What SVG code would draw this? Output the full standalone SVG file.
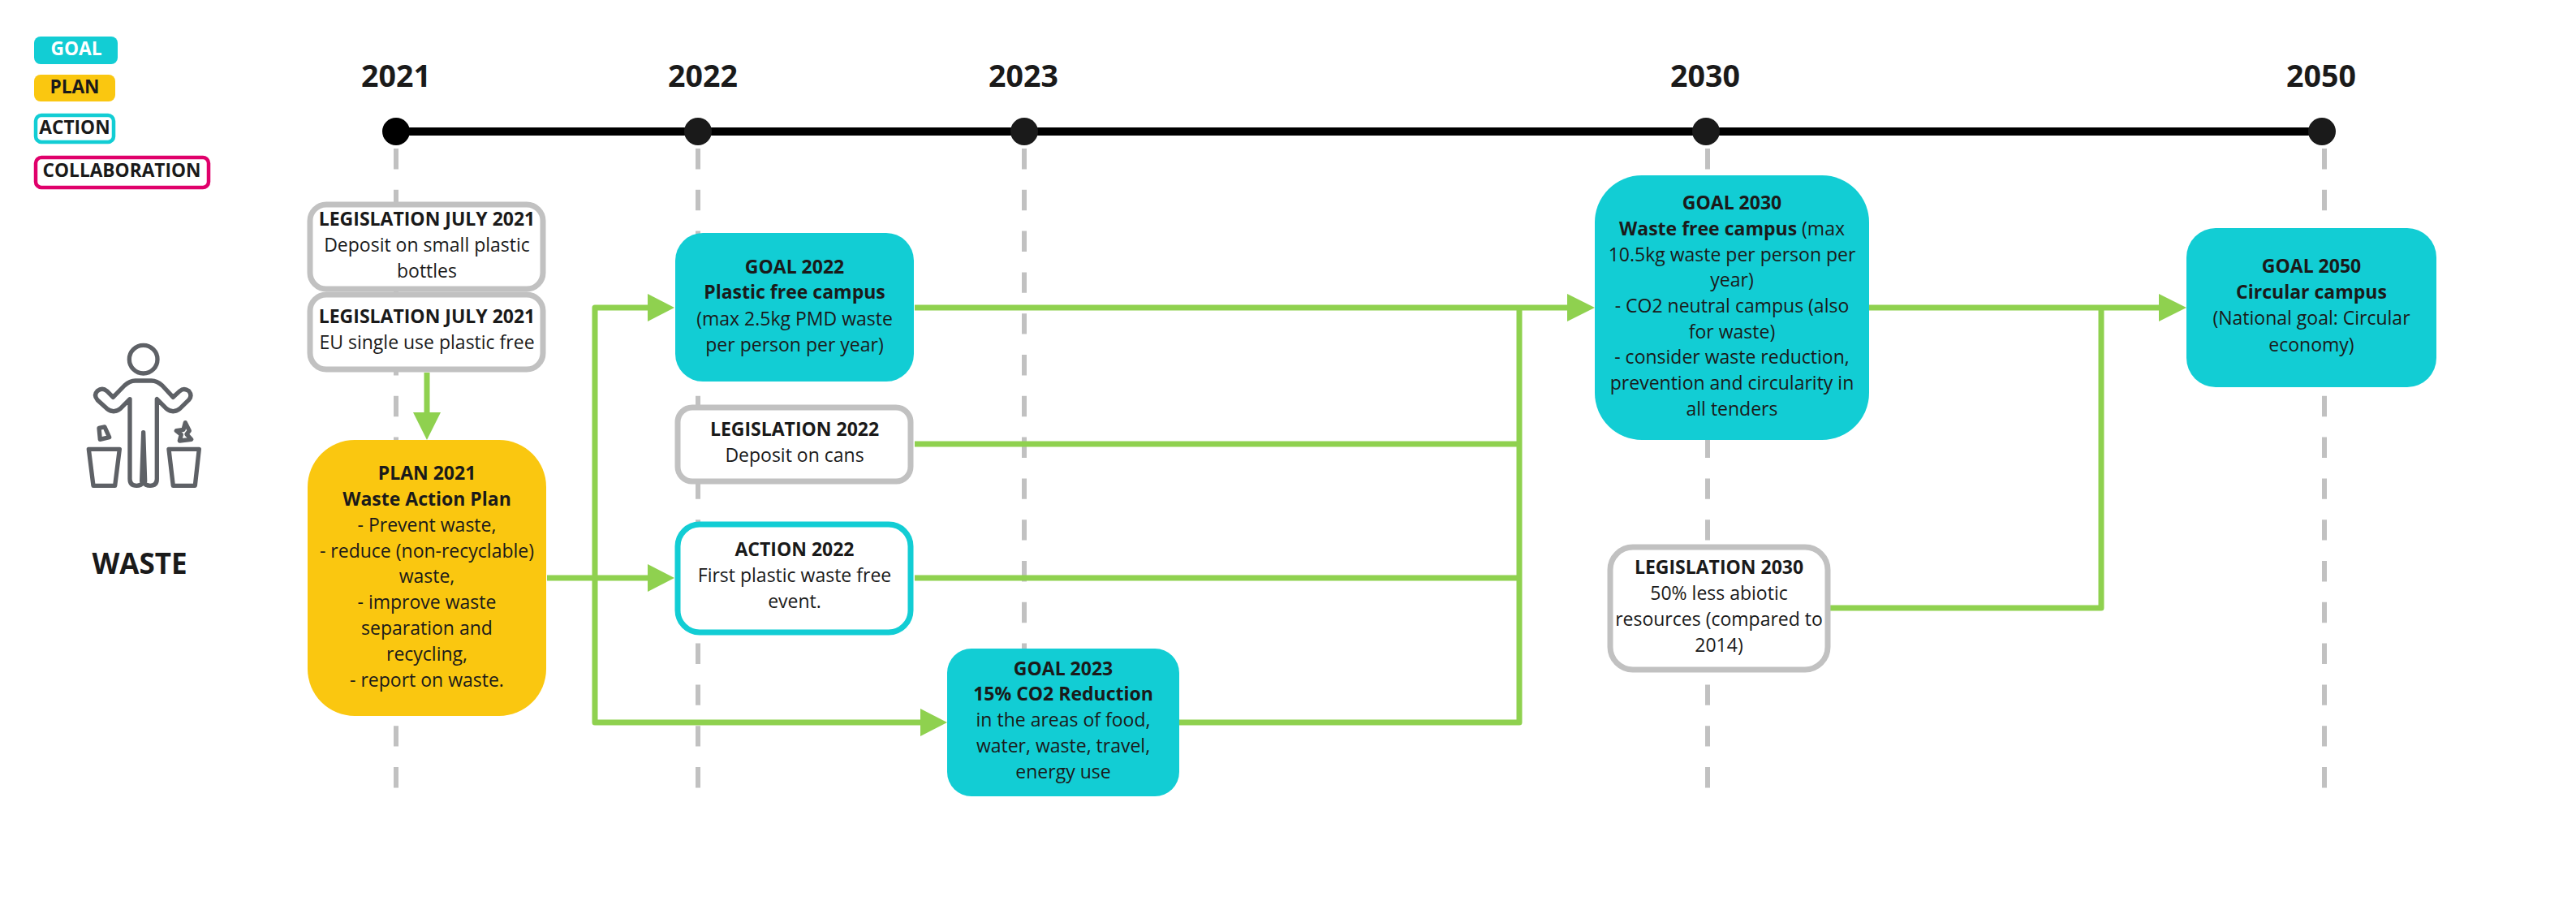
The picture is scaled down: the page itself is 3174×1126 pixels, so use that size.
<svg xmlns="http://www.w3.org/2000/svg" width="3174" height="1126" viewBox="0 0 3174 1126">
<style>
text{font-family:"Open Sans","Noto Sans","Liberation Sans",sans-serif;fill:#1a1a1a;text-anchor:middle;font-size:23px}
.b{font-weight:700}
.leg{font-size:22.7px;font-weight:700}
.yr{font-size:37.5px;font-weight:700}
.guide{stroke:#c1c1c1;stroke-width:6;stroke-dasharray:25.4 25.4;fill:none}
.c{stroke:#8fd14f;stroke-width:7;fill:none;stroke-linejoin:round}
.h{fill:#8fd14f}
.goal{fill:#12cdd4}
.plan{fill:#fac710}
.gray{fill:#fff;stroke:#c1c1c1;stroke-width:7}
.act{fill:#fff;stroke:#12cdd4;stroke-width:7}
</style>
<rect width="3174" height="1126" fill="#fff"/>
<g id="guides">
<path class="guide" d="M488 183V971"/><path class="guide" d="M860 183V971"/><path class="guide" d="M1262 183V971"/><path class="guide" d="M2104 183V971"/><path class="guide" d="M2864 183V971"/>
</g>
<g id="timeline">
<rect x="488" y="157" width="2373" height="10" fill="#000"/>
<circle cx="488" cy="162" r="17" fill="#000"/><circle cx="860" cy="162" r="17" fill="#1a1a1a"/><circle cx="1262" cy="162" r="17" fill="#1a1a1a"/><circle cx="2102" cy="162" r="17" fill="#1a1a1a"/><circle cx="2861" cy="162" r="17" fill="#1a1a1a"/>
<text class="yr" x="488" y="107">2021</text><text class="yr" x="866" y="107">2022</text><text class="yr" x="1261" y="107">2023</text><text class="yr" x="2101" y="107">2030</text><text class="yr" x="2860" y="107">2050</text>
</g>
<g id="connectors">
<path class="c" d="M526 459V510"/><path class="h" d="M509 508H543L526 542Z"/>
<path class="c" d="M674 712H800"/><path class="h" d="M798 695V729L831 712Z"/>
<path class="c" d="M800 379H733V890H1136"/><path class="h" d="M798 362V396L831 379Z"/><path class="h" d="M1134 873V907L1167 890Z"/>
<path class="c" d="M1127 379H1933"/><path class="h" d="M1931 362V396L1965 379Z"/>
<path class="c" d="M1127 547H1872"/><path class="c" d="M1127 712H1872"/>
<path class="c" d="M1453 890H1872V379"/>
<path class="c" d="M2303 379H2662"/><path class="h" d="M2660 362V396L2694 379Z"/>
<path class="c" d="M2255 749H2589V379"/>
</g>
<g id="legend-goal"><rect class="goal" x="42" y="45" width="103" height="34" rx="8"/><text class="leg" x="94" y="68" style="fill:#fff">GOAL</text></g>
<g id="legend-plan"><rect class="plan" x="42" y="92" width="100" height="33" rx="8"/><text class="leg" x="92" y="115">PLAN</text></g>
<g id="legend-action"><rect x="44" y="142" width="96" height="33" rx="7" fill="#fff" stroke="#12cdd4" stroke-width="4.5"/><text class="leg" x="92" y="165">ACTION</text></g>
<g id="legend-collaboration"><rect x="44" y="194" width="213" height="37" rx="7" fill="#fff" stroke="#e0006b" stroke-width="4.5"/><text class="leg" x="150" y="218">COLLABORATION</text></g>
<g id="waste-icon" transform="translate(60 400) scale(.3333)" fill="none" stroke="#5e6166" stroke-width="16" stroke-linejoin="round" stroke-linecap="round">
<circle cx="350" cy="128" r="52"/>
<path d="M300 275L265 310Q240 330 215 310L180 278Q165 260 180 245Q198 230 215 245L238 268L280 225Q300 207 320 207H380Q400 207 420 225L460 268L485 245Q500 232 518 245Q532 262 518 278L485 310Q460 330 435 310L400 275V570Q400 595 375 595Q358 595 350 582Q342 595 325 595Q300 595 300 570Z"/>
<path d="M350 398L344 578M350 398L356 578"/>
<path d="M148 460H262L245 595H165Z"/><path d="M444 460H556L541 595H460Z"/>
<path d="M186 382L207 378L224 416L190 424Z"/>
<path d="M472 392L498 388L505 362L520 392L510 405L527 424L484 429L490 406Z"/>
</g>
<g id="waste-label"><text class="b" x="172" y="707" style="font-size:35px">WASTE</text></g>
<g id="leg-july-1"><rect class="gray" x="382" y="252" width="287" height="104" rx="20"/><text class="b" x="526" y="278">LEGISLATION JULY 2021</text><text x="526" y="310">Deposit on small plastic</text><text x="526" y="342">bottles</text></g>
<g id="leg-july-2"><rect class="gray" x="382" y="363" width="287" height="92" rx="20"/><text class="b" x="526" y="398">LEGISLATION JULY 2021</text><text x="526" y="430">EU single use plastic free</text></g>
<g id="plan-2021"><rect class="plan" x="379" y="542" width="294" height="340" rx="58"/>
<text class="b" x="526" y="591">PLAN 2021</text><text class="b" x="526" y="623">Waste Action Plan</text><text x="526" y="655">- Prevent waste,</text><text x="526" y="687">- reduce (non-recyclable)</text><text x="526" y="718">waste,</text><text x="526" y="750">- improve waste</text><text x="526" y="782">separation and</text><text x="526" y="814">recycling,</text><text x="526" y="846">- report on waste.</text></g>
<g id="goal-2022"><rect class="goal" x="832" y="287" width="294" height="183" rx="34"/><text class="b" x="979" y="337">GOAL 2022</text><text class="b" x="979" y="368">Plastic free campus</text><text x="979" y="401">(max 2.5kg PMD waste</text><text x="979" y="433">per person per year)</text></g>
<g id="leg-2022"><rect class="gray" x="835" y="502" width="287" height="91" rx="18"/><text class="b" x="979" y="537">LEGISLATION 2022</text><text x="979" y="569">Deposit on cans</text></g>
<g id="action-2022"><rect class="act" x="835" y="646" width="287" height="133" rx="27"/><text class="b" x="979" y="685">ACTION 2022</text><text x="979" y="717">First plastic waste free</text><text x="979" y="749">event.</text></g>
<g id="goal-2023"><rect class="goal" x="1167" y="799" width="286" height="182" rx="30"/><text class="b" x="1310" y="832">GOAL 2023</text><text class="b" x="1310" y="863">15% CO2 Reduction</text><text x="1310" y="895">in the areas of food,</text><text x="1310" y="927">water, waste, travel,</text><text x="1310" y="959">energy use</text></g>
<g id="goal-2030"><rect class="goal" x="1965" y="216" width="338" height="326" rx="58"/>
<text class="b" x="2134" y="258">GOAL 2030</text><text x="2134" y="290"><tspan class="b">Waste free campus</tspan> (max</text><text x="2134" y="322">10.5kg waste per person per</text><text x="2134" y="353">year)</text><text x="2134" y="385">- CO2 neutral campus (also</text><text x="2134" y="417">for waste)</text><text x="2134" y="448">- consider waste reduction,</text><text x="2134" y="480">prevention and circularity in</text><text x="2134" y="512">all tenders</text></g>
<g id="leg-2030"><rect class="gray" x="1984" y="674" width="268" height="151" rx="28"/><text class="b" x="2118" y="707">LEGISLATION 2030</text><text x="2118" y="739">50% less abiotic</text><text x="2118" y="771">resources (compared to</text><text x="2118" y="803">2014)</text></g>
<g id="goal-2050"><rect class="goal" x="2694" y="281" width="308" height="196" rx="36"/><text class="b" x="2848" y="336">GOAL 2050</text><text class="b" x="2848" y="368">Circular campus</text><text x="2848" y="400">(National goal: Circular</text><text x="2848" y="433">economy)</text></g>
</svg>
